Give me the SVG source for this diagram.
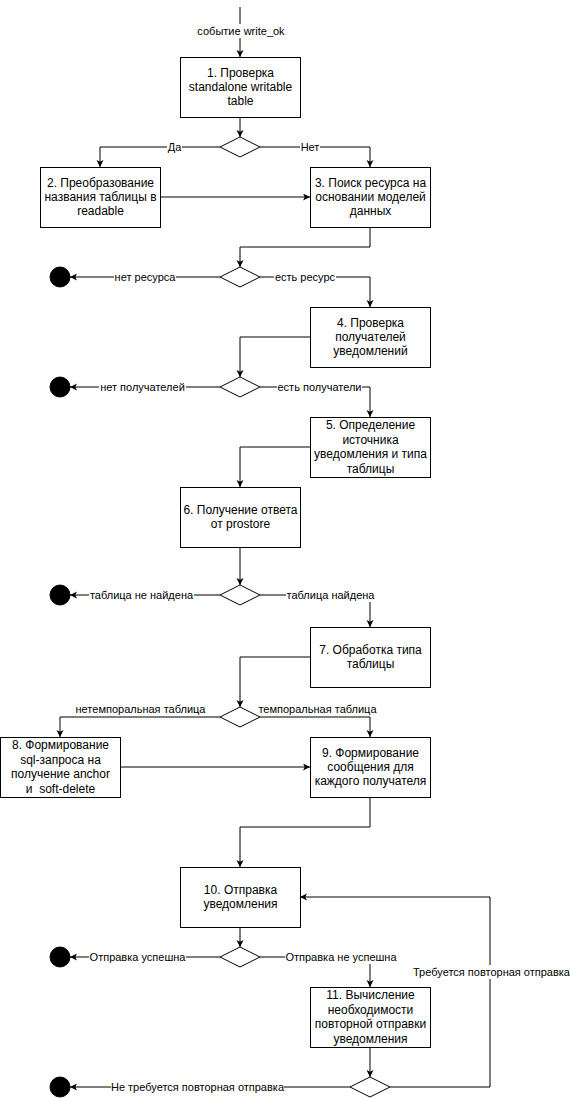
<svg xmlns="http://www.w3.org/2000/svg" width="570" height="1098" viewBox="0 0 570 1098">
<style>
.box{fill:#fff;stroke:#000;stroke-width:1}
.dia{fill:#fff;stroke:#000;stroke-width:1}
.term{fill:#000;stroke:#000}
.e{fill:none;stroke:#000;stroke-width:1;marker-end:url(#arr)}
.en{fill:none;stroke:#000;stroke-width:1}
.t{font-family:"Liberation Sans",Arial,sans-serif;font-size:12px;fill:#000;text-anchor:middle}
.l{font-family:"Liberation Sans",Arial,sans-serif;font-size:11px;fill:#000;text-anchor:middle}
.bg{fill:#fff}
</style>
<defs>
<marker id="arr" markerUnits="userSpaceOnUse" markerWidth="8" markerHeight="8" refX="7" refY="3.5" orient="auto">
<path d="M0,0 L7,3.5 L0,7 L1.75,3.5 z" fill="#000"/>
</marker>
</defs>
<rect width="570" height="1098" fill="#fff"/>
<g id="connectors">
<path class="e" d="M240,7 V57"/>
<path class="e" d="M240,117 V137"/>
<path class="e" d="M220,147 H100 V167"/>
<path class="e" d="M260,147 H370 V167"/>
<path class="e" d="M160,197 H310"/>
<path class="e" d="M370,227 V247 H240 V267"/>
<path class="e" d="M220,277 H70"/>
<path class="e" d="M260,277 H370 V307"/>
<path class="e" d="M310,337 H240 V377"/>
<path class="e" d="M220,387 H70"/>
<path class="e" d="M260,387 H370 V417"/>
<path class="e" d="M310,447 H240 V487"/>
<path class="e" d="M240,547 V585"/>
<path class="e" d="M220,595 H70"/>
<path class="e" d="M260,595 H370 V627"/>
<path class="e" d="M310,657 H240 V707"/>
<path class="e" d="M220,717 H60 V737"/>
<path class="e" d="M260,717 H370 V737"/>
<path class="e" d="M120,767 H310"/>
<path class="e" d="M370,797 V827 H240 V867"/>
<path class="e" d="M240,927 V947"/>
<path class="e" d="M220,957 H70"/>
<path class="e" d="M260,957 H370 V987"/>
<path class="e" d="M370,1047 V1077"/>
<path class="e" d="M350,1087 H70"/>
<path class="e" d="M390,1087 H490 V897 H300"/>
<g id="edge-labels">
<rect class="bg" x="197" y="24" width="89" height="14"/><text class="l" x="241" y="35">событие write_ok</text>
<rect class="bg" x="167" y="140" width="15" height="14"/><text class="l" x="174.5" y="151">Да</text>
<rect class="bg" x="300" y="140" width="20" height="14"/><text class="l" x="310" y="151">Нет</text>
<rect class="bg" x="114" y="270" width="62" height="14"/><text class="l" x="145" y="281">нет ресурса</text>
<rect class="bg" x="274" y="270" width="62" height="14"/><text class="l" x="305" y="281">есть ресурс</text>
<rect class="bg" x="99" y="380" width="87" height="14"/><text class="l" x="142.5" y="391">нет получателей</text>
<rect class="bg" x="277" y="380" width="85" height="14"/><text class="l" x="319.5" y="391">есть получатели</text>
<rect class="bg" x="89" y="588" width="105" height="14"/><text class="l" x="141.5" y="599">таблица не найдена</text>
<rect class="bg" x="286" y="588" width="89" height="14"/><text class="l" x="330.5" y="599">таблица найдена</text>
<text class="l" x="140.5" y="713">нетемпоральная таблица</text>
<text class="l" x="317.5" y="713">темпоральная таблица</text>
<rect class="bg" x="89" y="950" width="97" height="14"/><text class="l" x="137.5" y="961">Отправка успешна</text>
<rect class="bg" x="285" y="950" width="112" height="14"/><text class="l" x="341" y="961">Отправка не успешна</text>
<rect class="bg" x="413" y="965" width="157" height="14"/><text class="l" x="491.5" y="976">Требуется повторная отправка</text>
<rect class="bg" x="111" y="1080" width="173" height="14"/><text class="l" x="197.5" y="1091">Не требуется повторная отправка</text>
</g>
</g>
<g id="n1"><rect class="box" x="180.5" y="57.5" width="120" height="60"/><text class="t" x="240.5" y="76.6">1. Проверка</text><text class="t" x="240.5" y="91">standalone writable</text><text class="t" x="240.5" y="105.4">table</text></g>
<g id="d1"><path class="dia" d="M240,137 L260,147 L240,157 L220,147 Z"/></g>
<g id="n2"><rect class="box" x="40.5" y="167.5" width="120" height="60"/><text class="t" x="100.5" y="186.6">2. Преобразование</text><text class="t" x="100.5" y="201">названия таблицы в</text><text class="t" x="100.5" y="215.4">readable</text></g>
<g id="n3"><rect class="box" x="310.5" y="167.5" width="120" height="60"/><text class="t" x="370.5" y="186.6">3. Поиск ресурса на</text><text class="t" x="370.5" y="201">основании моделей</text><text class="t" x="370.5" y="215.4">данных</text></g>
<g id="d2"><path class="dia" d="M240,267 L260,277 L240,287 L220,277 Z"/></g>
<g id="end1"><circle class="term" cx="60" cy="277" r="10"/></g>
<g id="n4"><rect class="box" x="310.5" y="307.5" width="120" height="60"/><text class="t" x="370.5" y="326.6">4. Проверка</text><text class="t" x="370.5" y="341">получателей</text><text class="t" x="370.5" y="355.4">уведомлений</text></g>
<g id="d3"><path class="dia" d="M240,377 L260,387 L240,397 L220,387 Z"/></g>
<g id="end2"><circle class="term" cx="60" cy="387" r="10"/></g>
<g id="n5"><rect class="box" x="310.5" y="417.5" width="120" height="60"/><text class="t" x="370.5" y="429.4">5. Определение</text><text class="t" x="370.5" y="443.8">источника</text><text class="t" x="370.5" y="458.2">уведомления и типа</text><text class="t" x="370.5" y="472.6">таблицы</text></g>
<g id="n6"><rect class="box" x="180.5" y="487.5" width="120" height="60"/><text class="t" x="240.5" y="513.8">6. Получение ответа</text><text class="t" x="240.5" y="528.2">от prostore</text></g>
<g id="d4"><path class="dia" d="M240,585 L260,595 L240,605 L220,595 Z"/></g>
<g id="end3"><circle class="term" cx="60" cy="595" r="10"/></g>
<g id="n7"><rect class="box" x="310.5" y="627.5" width="120" height="60"/><text class="t" x="370.5" y="653.8">7. Обработка типа</text><text class="t" x="370.5" y="668.2">таблицы</text></g>
<g id="d5"><path class="dia" d="M240,707 L260,717 L240,727 L220,717 Z"/></g>
<g id="n8"><rect class="box" x="0.5" y="737.5" width="120" height="60"/><text class="t" x="60.5" y="749.4">8. Формирование</text><text class="t" x="60.5" y="763.8">sql-запроса на</text><text class="t" x="60.5" y="778.2">получение anchor</text><text class="t" x="60.5" y="792.6" xml:space="preserve">и  soft-delete</text></g>
<g id="n9"><rect class="box" x="310.5" y="737.5" width="120" height="60"/><text class="t" x="370.5" y="756.6">9. Формирование</text><text class="t" x="370.5" y="771">сообщения для</text><text class="t" x="370.5" y="785.4">каждого получателя</text></g>
<g id="n10"><rect class="box" x="180.5" y="867.5" width="120" height="60"/><text class="t" x="240.5" y="893.8">10. Отправка</text><text class="t" x="240.5" y="908.2">уведомления</text></g>
<g id="d6"><path class="dia" d="M240,947 L260,957 L240,967 L220,957 Z"/></g>
<g id="end4"><circle class="term" cx="60" cy="957" r="10"/></g>
<g id="n11"><rect class="box" x="310.5" y="987.5" width="120" height="60"/><text class="t" x="370.5" y="999.4">11. Вычисление</text><text class="t" x="370.5" y="1013.8">необходимости</text><text class="t" x="370.5" y="1028.2">повторной отправки</text><text class="t" x="370.5" y="1042.6">уведомления</text></g>
<g id="d7"><path class="dia" d="M370,1077 L390,1087 L370,1097 L350,1087 Z"/></g>
<g id="end5"><circle class="term" cx="60" cy="1087" r="10"/></g>
</svg>
